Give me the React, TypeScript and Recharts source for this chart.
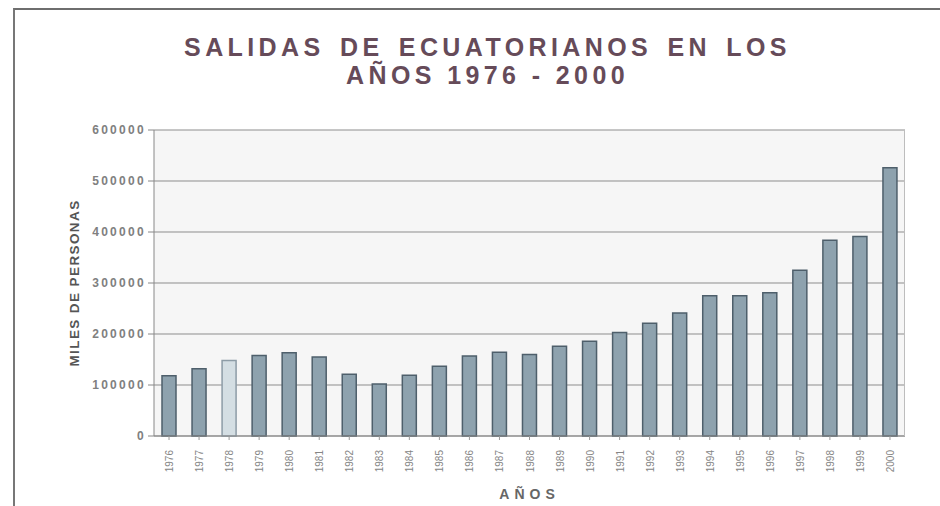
import React from 'react';
import { BarChart, Bar, XAxis, YAxis, CartesianGrid, Cell } from 'recharts';

const years = ['1976','1977','1978','1979','1980','1981','1982','1983','1984','1985','1986','1987','1988','1989','1990','1991','1992','1993','1994','1995','1996','1997','1998','1999','2000'];
const salidas = [118000,132000,148000,158000,163000,155000,121000,102000,119000,137000,157000,164000,160000,176000,186000,203000,221000,241000,275000,275000,281000,325000,384000,391000,526000];
const yTicks = [0,100000,200000,300000,400000,500000,600000];

const data = years.map((y, i) => ({ year: y, value: salidas[i] }));

const XTick = (props: any) => {
  const { x, y, payload } = props;
  const tx = x + 4;
  const ty = y + 8;
  return (
    <text x={tx} y={ty} transform={`rotate(-90, ${tx}, ${ty})`}
      textAnchor="end" fontSize={10} fill="#858585" fontFamily="Liberation Sans, Arial, sans-serif">
      {payload.value}
    </text>
  );
};

export default function App() {
  return (
    <div style={{ position: 'absolute', left: 0, top: 0, width: 940, height: 506, background: '#fff', overflow: 'hidden', fontFamily: 'Liberation Sans, Arial, sans-serif' }}>
      <div style={{ position: 'absolute', left: 13, top: 8, width: 940, height: 520, borderTop: '2px solid #6e6e6e', borderLeft: '2px solid #777' }} />
      <div style={{ position: 'absolute', left: 0, top: 33, width: 975, textAlign: 'center', fontWeight: 'bold', fontSize: 25, letterSpacing: 4.4, lineHeight: '28px', color: '#664b59' }}>
        <span style={{ wordSpacing: 4 }}>SALIDAS DE ECUATORIANOS EN LOS</span><br />AÑOS 1976 - 2000
      </div>
      <div style={{ position: 'absolute', left: 0, top: 0 }}>
        <BarChart width={940} height={506} data={data}
          margin={{ top: 130, right: 35, bottom: 20, left: 62 }} barCategoryGap="52%">
          <CartesianGrid vertical={false} stroke="#8d8d8d" strokeWidth={1} fill="#f6f6f6" />
          <XAxis dataKey="year" interval={0} height={50} tick={<XTick />} tickLine={{ stroke: '#999' }} tickSize={4}
            axisLine={{ stroke: '#888' }}
            label={{ value: 'AÑOS', position: 'insideBottom', offset: -13, fill: '#666', fontSize: 14, fontWeight: 'bold', letterSpacing: 5 } as any} />
          <YAxis domain={[0, 600000]} ticks={yTicks} interval={0} width={92} tickSize={6}
            tick={{ fill: '#808080', fontSize: 12, fontWeight: 'bold', letterSpacing: 2.3 } as any}
            tickLine={{ stroke: '#888' }} axisLine={{ stroke: '#888' }}
            label={{ value: 'MILES DE PERSONAS', angle: -90, position: 'insideLeft', offset: 12, fill: '#555', fontSize: 13.5, fontWeight: 'bold', letterSpacing: 1.4, style: { textAnchor: 'middle' } } as any} />
          <Bar dataKey="value" isAnimationActive={false} barSize={14} strokeWidth={1.5}>
            {data.map((d) => (
              <Cell key={d.year} fill={d.year === '1978' ? '#d4dee3' : '#8ea2ae'} stroke={d.year === '1978' ? '#8d9ca6' : '#4e5f6b'} />
            ))}
          </Bar>
        </BarChart>
      </div>
      <div style={{ position: 'absolute', left: 904, top: 130, width: 1, height: 306, background: '#bdbdbd' }} />
    </div>
  );
}
